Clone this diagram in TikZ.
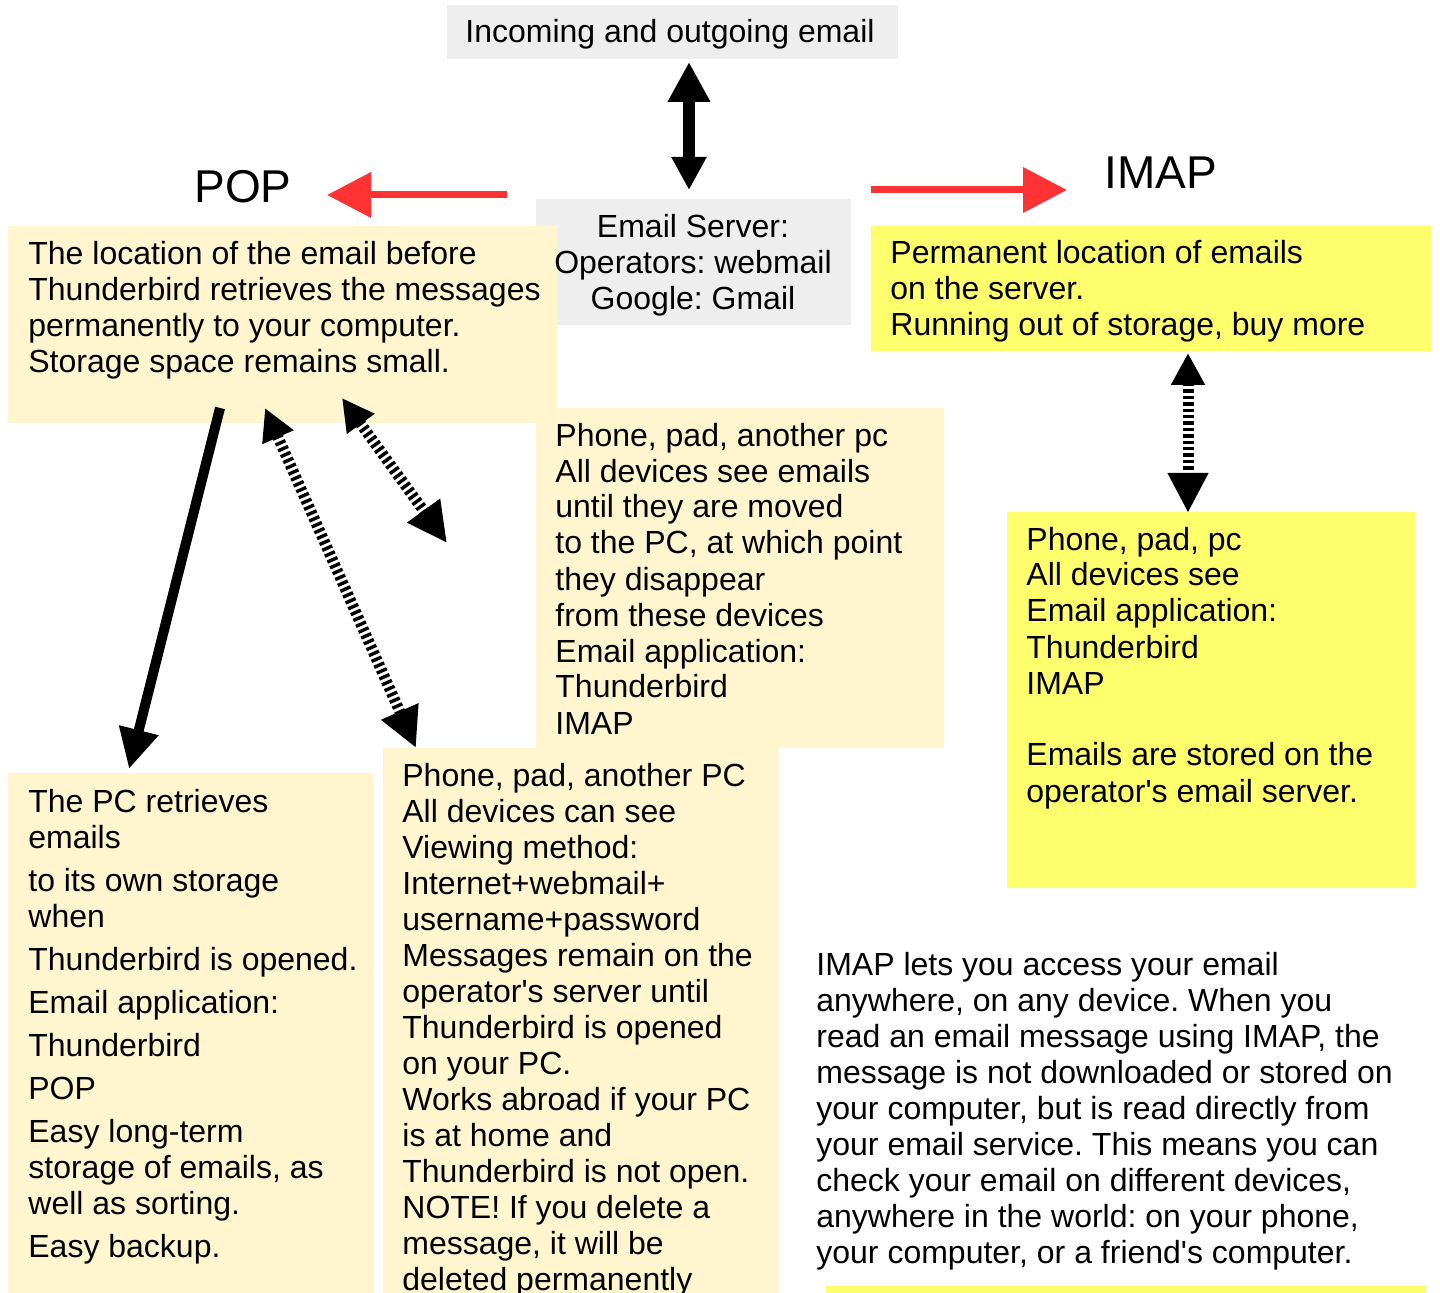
\documentclass[tikz,border=0pt]{standalone}
\usepackage{fontspec}
\setmainfont{Liberation Sans}
\usepackage{xcolor}
\usetikzlibrary{arrows.meta, positioning}
\frenchspacing

\definecolor{srvgray}{HTML}{EEEEEE}
\definecolor{popbg}{HTML}{FFF5CE}
\definecolor{imapbg}{HTML}{FFFF6D}
\definecolor{popred}{HTML}{FF3333}

\tikzset{
    panel/.style 2 args={rectangle, anchor=north west, inner sep=0pt, outer sep=0pt, minimum width=#1*0.5pt, minimum height=#2*0.5pt}
}

\begin{document}
\begin{tikzpicture}[
    x=0.5pt, y=-0.5pt,
    txt/.style={anchor=base west, align=left, inner sep=0pt, font=\fontsize{16}{18}\selectfont},
    ctxt/.style={anchor=base, align=center, inner sep=0pt, font=\fontsize{16}{18}\selectfont},
    head/.style={anchor=base, inner sep=0pt, font=\fontsize{23}{27}\selectfont},
    redarrow/.style={-{Triangle[length=22pt, width=22pt]}, line width=3.5pt, popred},
    blkarrow/.style={-{Triangle[length=20pt, width=19pt]}, line width=5pt},
    zebra/.style={{Triangle[length=16pt, width=16pt]}-{Triangle[length=20pt, width=19pt]}, line width=5.5pt, dash pattern=on 1.7pt off 1.5pt}
]
    \useasboundingbox (0,0) rectangle (1440,1293);

    \node[panel={451}{54}, fill=srvgray] (inout) at (447,5) {};
    \node[panel={315}{126}, fill=srvgray] (server) at (536,199) {};
    \node[panel={549}{197}, fill=popbg] (popbox) at (8,226) {};
    \node[panel={560}{125}, fill=imapbg] (imapbox) at (871,226) {};
    \node[panel={408}{340}, fill=popbg] (popdev) at (536,408) {};
    \node[panel={408}{376}, fill=imapbg] (imapdev) at (1007,512) {};
    \node[panel={366}{520}, fill=popbg] (pcbox) at (8,773) {};
    \node[panel={396}{545}, fill=popbg] (webbox) at (383,748) {};
    \node[panel={600}{10}, fill=imapbg] (strip) at (826,1286) {};

    % multi-line texts are placed by the baseline of their last line
    \node[ctxt] (inouttext) at (670,43) {Incoming and outgoing email};
    \node[ctxt] (servertext) at (693,310) {Email Server:\\Operators: webmail\\Google: Gmail};
    \node[head] (poplabel) at (243,203) {POP};
    \node[head] (imaplabel) at (1161,189) {IMAP};
    \node[txt] (poptext) at (28,373) {The location of the email before\\Thunderbird retrieves the messages\\permanently to your computer.\\Storage space remains small.};
    \node[txt] (imaptext) at (890,336) {Permanent location of emails\\on the server.\\Running out of storage, buy more};
    \node[txt] (popdevtext) at (555,734) {Phone, pad, another pc\\All devices see emails\\until they are moved\\to the PC, at which point\\they disappear\\from these devices\\Email application:\\Thunderbird\\IMAP};
    \node[txt] (imapdevtext) at (1026,802) {Phone, pad, pc\\All devices see\\Email application:\\Thunderbird\\IMAP\\[18pt]Emails are stored on the\\operator\textquotesingle s email server.};
    \node[txt] (pctext) at (28,1257) {The PC retrieves\\emails\\[3.5pt]to its own storage\\when\\[3.5pt]Thunderbird is opened.\\[3.5pt]Email application:\\[3.5pt]Thunderbird\\[3.5pt]POP\\[3.5pt]Easy long-term\\storage of emails, as\\well as sorting.\\[3.5pt]Easy backup.};
    \node[txt] (webtext) at (402,1290) {Phone, pad, another PC\\All devices can see\\Viewing method:\\Internet+webmail+\\username+password\\Messages remain on the\\operator\textquotesingle s server until\\Thunderbird is opened\\on your PC.\\Works abroad if your PC\\is at home and\\Thunderbird is not open.\\NOTE! If you delete a\\message, it will be\\deleted permanently};
    \node[txt] (imapinfo) at (816,1263) {IMAP lets you access your email\\anywhere, on any device. When you\\read an email message using IMAP, the\\message is not downloaded or stored on\\your computer, but is read directly from\\your email service. This means you can\\check your email on different devices,\\anywhere in the world: on your phone,\\your computer, or a friend\textquotesingle s computer.};

    \coordinate (inoutend) at (689,62);
    \coordinate (serverend) at (689,190);
    \coordinate (popfrom) at (507,195);
    \coordinate (popto) at (327,195);
    \coordinate (imapfrom) at (871,190);
    \coordinate (imapto) at (1067,190);
    \coordinate (pcfrom) at (220,408);
    \coordinate (pcto) at (129,769);
    \coordinate (webfrom) at (265,408);
    \coordinate (webto) at (416,748);
    \coordinate (devfrom) at (342,398);
    \coordinate (devto) at (447,543);
    \coordinate (imapup) at (1188,353);
    \coordinate (imapdown) at (1188,513);

    \draw[{Triangle[length=20pt, width=20pt]}-{Triangle[length=16.5pt, width=16.5pt]}, line width=6pt] (inoutend) -- (serverend);
    \draw[redarrow] (popfrom) -- (popto);
    \draw[redarrow] (imapfrom) -- (imapto);
    \draw[blkarrow] (pcfrom) -- (pcto);
    \draw[zebra] (webfrom) -- (webto);
    \draw[zebra] (devfrom) -- (devto);
    \draw[zebra] (imapup) -- (imapdown);
\end{tikzpicture}
\end{document}
